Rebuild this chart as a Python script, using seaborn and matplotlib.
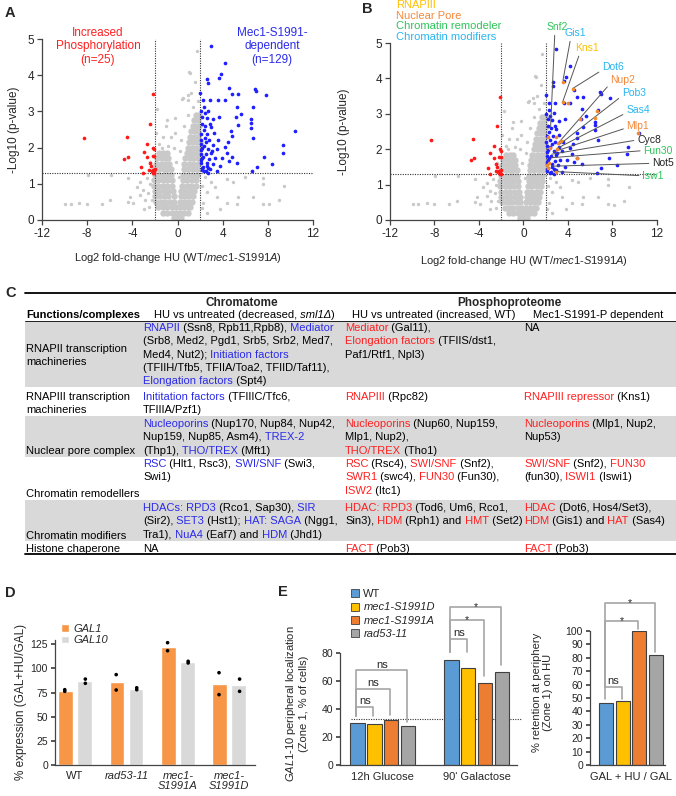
import matplotlib
matplotlib.use('Agg')
import matplotlib.pyplot as plt
from matplotlib.patches import Patch, Rectangle
import numpy as np
import pandas as pd
import seaborn as sns

# ---------------- data ----------------
# volcano (A, B): dense grey cloud, one list of log2FC per -log10 p row
grey_core_rows = {
    0.05: [-0.35, 0.0, 0.35],
    0.20: [-1.3, -0.9, -0.5, -0.15, 0.2, 0.55, 0.9],
    0.35: [-1.7, -1.3, -0.9, -0.5, -0.15, 0.2, 0.55, 0.9, 1.15],
    0.50: [-1.9, -1.5, -1.1, -0.7, -0.3, 0.25, 0.6, 0.95, 1.3],
    0.65: [-2.0, -1.6, -1.2, -0.8, -0.35, 0.3, 0.65, 1.0, 1.4],
    0.80: [-2.0, -1.6, -1.2, -0.8, -0.4, 0.35, 0.7, 1.1, 1.5],
    0.95: [-2.1, -1.7, -1.3, -0.9, -0.45, 0.4, 0.8, 1.2, 1.6],
    1.10: [-2.1, -1.7, -1.3, -0.9, -0.5, 0.45, 0.85, 1.25, 1.65],
    1.25: [-2.0, -1.6, -1.2, -0.9, -0.55, 0.5, 0.9, 1.3, 1.7],
    1.40: [-2.0, -1.6, -1.2, -0.9, -0.6, 0.55, 0.95, 1.35, 1.75],
    1.55: [-1.9, -1.5, -1.1, -0.75, 0.6, 1.0, 1.4, 1.8],
    1.70: [-1.8, -1.4, -1.05, -0.8, 0.7, 1.1, 1.5, 1.85],
    1.85: [-1.6, -1.25, -0.95, 0.8, 1.2, 1.6, 1.9],
    2.00: [0.9, 1.3, 1.65, 1.95],
    2.15: [1.0, 1.35, 1.7, 1.95],
    2.30: [1.1, 1.45, 1.8],
    2.45: [1.2, 1.55, 1.85],
    2.60: [1.35, 1.65, 1.9],
    2.75: [1.5, 1.8],
    2.90: [1.65, 1.9],
}

grey_scatter = [
    (-9.96, 0.44), (-9.46, 0.44), (-8.70, 0.48), (-8.04, 0.44), (-6.71, 0.44),
    (-5.98, 0.55), (-4.36, 0.51), (-3.91, 0.46), (-4.20, 0.64), (-3.32, 0.69),
    (-3.03, 0.83), (-3.61, 0.92), (-7.95, 1.23), (-5.92, 1.23), (-4.36, 1.15),
    (-2.73, 1.15), (-2.43, 1.00), (-2.90, 0.55), (-2.60, 0.75), (-3.30, 1.05),
    (-2.50, 0.35), (-3.00, 0.30), (-2.30, 0.55), (-2.40, 1.60), (-1.79, 3.07),
    (-0.95, 2.76), (-1.00, 2.60), (-1.26, 2.30), (-0.22, 2.81), (-1.60, 2.10),
    (-0.60, 2.30), (-0.30, 2.00), (-1.90, 2.40), (-1.40, 2.00), (-0.80, 2.05),
    (9.45, 0.94), (9.00, 0.55), (8.12, 0.43), (7.60, 0.44), (7.60, 1.15),
    (7.60, 1.00), (4.34, 0.48), (5.29, 0.44), (3.46, 0.64), (2.57, 0.78),
    (3.31, 0.92), (2.93, 1.06), (4.34, 1.12), (4.93, 1.06), (5.37, 0.64),
    (6.70, 0.64), (2.28, 0.48), (2.13, 0.32), (2.40, 1.20), (2.20, 0.95),
    (3.80, 0.30), (6.00, 1.20), (2.60, 0.20),
    (1.69, 4.68), (1.04, 4.08), (1.11, 4.05), (1.55, 3.82), (0.46, 3.36),
    (0.96, 3.31), (1.40, 3.13), (1.70, 2.76), (0.42, 3.34), (0.89, 3.45),
    (0.27, 2.21), (0.60, 2.60), (0.90, 2.90), (1.20, 3.50), (1.80, 3.30),
    (0.20, 1.90), (-0.10, 1.60), (0.10, 1.20), (-0.20, 2.40),
]

red_points = [
    (-8.28, 2.26), (-4.50, 2.30), (-4.74, 1.69), (-4.41, 1.75), (-2.14, 3.48),
    (-2.40, 2.65), (-2.67, 2.09), (-2.14, 2.00), (-2.05, 1.95), (-2.97, 1.88),
    (-2.67, 1.75), (-2.20, 1.77), (-2.05, 1.77), (-2.43, 1.57), (-3.23, 1.46),
    (-2.50, 1.38), (-3.03, 1.31), (-2.35, 1.50), (-2.20, 1.38), (-2.20, 1.33),
    (-2.10, 1.34), (-2.05, 1.31), (-2.15, 1.30), (-2.25, 1.36), (-2.02, 1.40),
]

blue_points = [
    (2.93, 4.82), (4.20, 4.35), (3.84, 4.03), (3.66, 3.93), (2.63, 3.89),
    (2.66, 3.78), (4.52, 3.66), (4.84, 3.47), (5.32, 3.47), (6.85, 3.61),
    (6.94, 3.57), (7.82, 3.45), (2.01, 3.52), (2.25, 3.31), (2.87, 3.31),
    (3.60, 3.31), (4.22, 3.31), (5.29, 3.13), (6.70, 3.11), (2.31, 3.11),
    (2.72, 3.02), (3.69, 2.85), (2.57, 2.82), (3.16, 2.80), (5.58, 2.93),
    (5.14, 2.85), (6.47, 2.78), (5.34, 2.62), (6.47, 2.67), (6.47, 2.54),
    (2.16, 2.65), (2.45, 2.60), (2.87, 2.65), (2.96, 2.58), (10.42, 2.46),
    (4.78, 2.46), (2.31, 2.50), (2.07, 2.38), (2.63, 2.38), (3.22, 2.39),
    (4.81, 2.32), (6.70, 2.27), (3.55, 2.21), (2.40, 2.27), (2.81, 2.21),
    (4.49, 2.16), (2.10, 2.09), (2.37, 2.05), (3.16, 2.07), (4.17, 2.03),
    (9.36, 2.07), (9.30, 1.86), (2.07, 1.93), (2.72, 1.95), (3.46, 1.95),
    (2.07, 1.82), (2.48, 1.82), (2.96, 1.84), (4.34, 1.86), (4.81, 1.75),
    (7.68, 1.75), (2.16, 1.70), (2.81, 1.68), (3.31, 1.70), (3.90, 1.70),
    (4.58, 1.63), (5.26, 1.58), (2.07, 1.57), (2.57, 1.57), (3.10, 1.54),
    (8.38, 1.54), (2.22, 1.47), (2.72, 1.43), (3.75, 1.49), (7.00, 1.47),
    (3.46, 1.35), (6.61, 1.34), (2.48, 1.36), (2.13, 1.38), (2.34, 1.34),
    (2.05, 2.20), (2.20, 1.98), (2.55, 2.15), (2.10, 1.65), (2.30, 1.75),
    (2.60, 1.50), (2.90, 1.40), (3.05, 1.90), (2.20, 2.85), (2.05, 3.00),
    (2.40, 2.95), (2.15, 1.45), (2.70, 1.30),
]

# chromatin-related hits highlighted in B
orange_points = [
    (3.52, 3.89), (4.45, 3.70), (3.52, 3.32), (4.03, 3.30), (5.08, 2.85),
    (6.58, 3.08), (6.43, 2.87), (10.32, 2.47), (3.34, 2.23), (2.92, 2.34),
    (3.13, 2.17), (3.04, 2.00), (4.78, 1.76), (2.08, 1.55), (2.32, 1.60),
    (2.92, 1.35), (2.23, 1.48), (2.38, 2.02), (2.23, 2.35),
]

b_labels = ['Snf2', 'Gis1', 'Kns1', 'Dot6', 'Nup2', 'Pob3', 'Sas4', 'Mlp1',
            'Cyc8', 'Fun30', 'Not5', 'Isw1']
b_label_fc = [2.44, 3.55, 3.50, 4.45, 3.20, 3.30, 3.00, 2.75, 2.55, 2.50, 2.60, 2.75]
b_label_p = [2.64, 3.95, 3.32, 3.72, 2.20, 2.15, 2.02, 1.93, 1.86, 1.76, 1.52, 1.37]
b_label_kind = ['remodeler', 'modifier', 'rnap3', 'modifier', 'pore', 'modifier',
                'modifier', 'pore', 'other', 'remodeler', 'other', 'remodeler']

# D: % expression, two replicates each
d_strains = ['WT', 'rad53-11', 'mec1-S1991A', 'mec1-S1991D']
d_tick_labels = ['WT', 'rad53-11', 'mec1-\nS1991A', 'mec1-\nS1991D']
gal1_reps = [[76.3, 78.0], [93.6, 77.7], [126.7, 118.4], [95.6, 72.9]]
gal10_reps = [[89.0, 84.6], [78.0, 80.0], [105.7, 107.4], [89.0, 76.3]]

# E
e_strains = ['WT', 'mec1-S1991D', 'mec1-S1991A', 'rad53-11']
e_conditions = ['12h Glucose', "90' Galactose"]
periph_glucose = [30.3, 29.1, 32.5, 27.9]
periph_galactose = [74.7, 69.3, 58.7, 66.6]
retention_hu = [46.4, 47.6, 100.0, 81.9]
# (strain index vs WT, bracket height, WT leg end, other leg end, label)
glucose_sig = [(1, 41.3, 35.0, 35.0, 'ns'), (2, 54.2, 35.0, 35.8, 'ns'), (3, 67.6, 35.0, 30.5, 'ns')]
galactose_sig = [(1, 90.0, 81.0, 81.0, 'ns'), (2, 103.4, 81.0, 63.3, '*'), (3, 112.7, 81.0, 71.6, '*')]
retention_sig = [(1, 58.3, 49.6, 49.6, 'ns'), (2, 107.4, 58.3, 101.7, '*'), (3, 120.8, 58.3, 84.4, '*')]

# C: table text; parts are (text, kind) with k=black, b=blue, r=red, i=italic
table_rows = [
    (True, ['RNAPII transcription', 'machineries'],
     [[('RNAPII', 'b'), (' (Ssn8, Rpb11,Rpb8),', 'k'), (' Mediator', 'b')],
      [('(Srb8, Med2, Pgd1, Srb5, Srb2, Med7,', 'k')],
      [('Med4, Nut2);', 'k'), (' Initiation factors', 'b')],
      [('(TFIIH/Tfb5, TFIIA/Toa2, TFIID/Taf11),', 'k')],
      [('Elongation factors', 'b'), (' (Spt4)', 'k')]],
     [[('Mediator', 'r'), (' (Gal11),', 'k')],
      [('Elongation factors', 'r'), (' (TFIIS/dst1,', 'k')],
      [('Paf1/Rtf1, Npl3)', 'k')]],
     [[('NA', 'k')]]),
    (False, ['RNAPIII transcription', 'machineries'],
     [[('Inititation factors', 'b'), (' (TFIIIC/Tfc6,', 'k')],
      [('TFIIIA/Pzf1)', 'k')]],
     [[('RNAPIII', 'r'), (' (Rpc82)', 'k')]],
     [[('RNAPIII repressor', 'r'), (' (Kns1)', 'k')]]),
    (True, ['Nuclear pore complex'],
     [[('Nucleoporins', 'b'), (' (Nup170, Nup84, Nup42,', 'k')],
      [('Nup159, Nup85, Asm4),', 'k'), (' TREX-2', 'b')],
      [('(Thp1),', 'k'), (' THO/TREX', 'b'), (' (Mft1)', 'k')]],
     [[('Nucleoporins', 'r'), (' (Nup60, Nup159,', 'k')],
      [('Mlp1, Nup2),', 'k')],
      [('THO/TREX', 'r'), (' (Tho1)', 'k')]],
     [[('Nucleoporins', 'r'), (' (Mlp1, Nup2,', 'k')],
      [('Nup53)', 'k')]]),
    (False, ['Chromatin remodellers'],
     [[('RSC', 'b'), (' (Hlt1, Rsc3),', 'k'), (' SWI/SNF', 'b'), (' (Swi3,', 'k')],
      [('Swi1)', 'k')]],
     [[('RSC', 'r'), (' (Rsc4),', 'k'), (' SWI/SNF', 'r'), (' (Snf2),', 'k')],
      [('SWR1', 'r'), (' (swc4),', 'k'), (' FUN30', 'r'), (' (Fun30),', 'k')],
      [('ISW2', 'r'), (' (Itc1)', 'k')]],
     [[('SWI/SNF', 'r'), (' (Snf2),', 'k'), (' FUN30', 'r')],
      [('(fun30),', 'k'), (' ISWI1', 'r'), (' (Iswi1)', 'k')]]),
    (True, ['Chromatin modifiers'],
     [[('HDACs: RPD3', 'b'), (' (Rco1, Sap30),', 'k'), (' SIR', 'b')],
      [('(Sir2),', 'k'), (' SET3', 'b'), (' (Hst1);', 'k'), (' HAT: SAGA', 'b'), (' (Ngg1,', 'k')],
      [('Tra1),', 'k'), (' NuA4', 'b'), (' (Eaf7) and', 'k'), (' HDM', 'b'), (' (Jhd1)', 'k')]],
     [[('HDAC: RPD3', 'r'), (' (Tod6, Um6, Rco1,', 'k')],
      [('Sin3),', 'k'), (' HDM', 'r'), (' (Rph1) and', 'k'), (' HMT', 'r'), (' (Set2)', 'k')]],
     [[('HDAC', 'r'), (' (Dot6, Hos4/Set3),', 'k')],
      [('HDM', 'r'), (' (Gis1) and', 'k'), (' HAT', 'r'), (' (Sas4)', 'k')]]),
    (False, ['Histone chaperone'],
     [[('NA', 'k')]],
     [[('FACT', 'r'), (' (Pob3)', 'k')]],
     [[('FACT', 'r'), (' (Pob3)', 'k')]]),
]

# ---------------- style ----------------
sns.set_theme(style='ticks')
plt.rcParams['font.family'] = ['Liberation Sans', 'DejaVu Sans']
plt.rcParams['mathtext.fontset'] = 'custom'
plt.rcParams['mathtext.rm'] = 'Liberation Sans'
plt.rcParams['mathtext.it'] = 'Liberation Sans:italic'
plt.rcParams['axes.unicode_minus'] = False

GREY = '#c9c9c9'
RED = '#ff1a1a'
BLUE = '#1f1fff'
ORANGE_PT = '#f08a30'
BLUE_T = '#2b2bea'
RED_T = '#ff2020'
kind_colors = {'rnap3': '#ffc000', 'pore': '#f5883a', 'remodeler': '#2fc45a',
               'modifier': '#29b6f0', 'other': '#222222'}
AX_C = '#444444'

W, H = 676, 796
fig = plt.figure(figsize=(W / 100, H / 100), dpi=100)


def px_axes(x0, y0, x1, y1):
    return fig.add_axes([x0 / W, 1 - y1 / H, (x1 - x0) / W, (y1 - y0) / H])


# overlay in pixel coordinates for the table and panel letters
ax_t = fig.add_axes([0, 0, 1, 1])
ax_t.set_xlim(0, W)
ax_t.set_ylim(H, 0)
ax_t.axis('off')

core_df = pd.DataFrame([(x, y) for y, xs in grey_core_rows.items() for x in xs], columns=['fc', 'p'])
scat_df = pd.DataFrame(grey_scatter, columns=['fc', 'p'])
red_df = pd.DataFrame(red_points, columns=['fc', 'p'])
blue_df = pd.DataFrame(blue_points, columns=['fc', 'p'])
orange_df = pd.DataFrame(orange_points, columns=['fc', 'p'])


def volcano(ax, highlight):
    sns.scatterplot(data=core_df, x='fc', y='p', s=21, color=GREY, linewidth=0, ax=ax, zorder=1)
    sns.scatterplot(data=scat_df, x='fc', y='p', s=6, color=GREY, linewidth=0, ax=ax, zorder=1)
    sns.scatterplot(data=red_df, x='fc', y='p', s=7, color=RED, linewidth=0, ax=ax, zorder=3)
    sns.scatterplot(data=blue_df, x='fc', y='p', s=7, color=BLUE, linewidth=0, ax=ax, zorder=3)
    if highlight:
        sns.scatterplot(data=orange_df, x='fc', y='p', s=7, color=ORANGE_PT, linewidth=0, ax=ax, zorder=4)
    for xv in (-2, 2):
        ax.axvline(xv, ls=(0, (1, 1.2)), color='#333333', lw=0.8, zorder=2)
    ax.axhline(1.3, ls=(0, (1, 1.2)), color='#333333', lw=0.8, zorder=2)
    ax.set_xlim(-12, 12)
    ax.set_ylim(0, 5)
    ax.set_xticks(range(-12, 13, 4))
    ax.set_yticks(range(6))
    sns.despine(ax=ax)
    for sp in ('left', 'bottom'):
        ax.spines[sp].set_color(AX_C)
        ax.spines[sp].set_linewidth(0.9)
    ax.tick_params(labelsize=8.5, length=3.5, width=0.9, color=AX_C, pad=2)
    ax.set_xlabel('Log2 fold-change HU (WT/$\\it{mec1}$-$\\it{S1991A}$)', fontsize=8)
    ax.set_ylabel('-Log10 (p-value)', fontsize=8.5)


# ---------------- A ----------------
ax_a = px_axes(42, 39, 313, 220)
volcano(ax_a, False)
ax_a.xaxis.set_label_coords(0.5, -0.17)
ax_a.yaxis.set_label_coords(-0.08, 0.5)
ax_a.text(-7.04, 4.8, 'Increased\nPhosphorylation\n(n=25)', color=RED_T, fontsize=8.5,
          ha='center', va='center', linespacing=1.15)
ax_a.text(8.37, 4.8, 'Mec1-S1991-\ndependent\n(n=129)', color=BLUE_T, fontsize=8.5,
          ha='center', va='center', linespacing=1.15)

# ---------------- B ----------------
ax_b = px_axes(390, 43, 657, 220)
volcano(ax_b, True)
ax_b.xaxis.set_label_coords(0.5, -0.19)
ax_b.yaxis.set_label_coords(-0.148, 0.5)
for i, (name, kind) in enumerate([('RNAPIII', 'rnap3'), ('Nuclear Pore', 'pore'),
                                  ('Chromatin remodeler', 'remodeler'),
                                  ('Chromatin modifiers', 'modifier')]):
    ax_b.text(-11.46, 6.07 - i * 0.3, name, color=kind_colors[kind], fontsize=8,
              ha='left', va='center', clip_on=False)

label_pos = [(3.01, 5.45), (4.63, 5.28), (5.71, 4.86), (8.04, 4.32), (8.94, 3.95),
             (9.93, 3.59), (10.29, 3.11), (10.29, 2.66), (11.28, 2.26), (12.09, 1.96),
             (12.54, 1.60), (11.64, 1.25)]
label_rel = [(0.4, 0), (0.3, 0), (0.2, 0), (0, 0.2), (0, 0.2), (0, 0.2), (0, 0.2),
             (0, 0.3), (0, 0.5), (0, 0.5), (0, 0.5), (0, 0.5)]
for name, fx, fy, kind, pos, rel in zip(b_labels, b_label_fc, b_label_p, b_label_kind,
                                        label_pos, label_rel):
    ax_b.annotate(name, xy=(fx, fy), xytext=pos, color=kind_colors[kind], fontsize=7.5,
                  ha='center', va='center', annotation_clip=False,
                  arrowprops=dict(arrowstyle='-', color='#555555', lw=0.7,
                                  shrinkA=0, shrinkB=0, relpos=rel))

# ---------------- C (table) ----------------
row_tops = [321, 387, 416, 457, 500, 541]
row_bottoms = [387, 416, 457, 500, 541, 554]
row_first = [327, 396, 423, 463, 507, 548]
col1_first = [348, 396, 450, 493, 535, 548]
col_x = [26, 143, 345, 524]
LINE = 13.3
TFS = 8
kind_style = {'k': ('black', 'normal'), 'b': (BLUE_T, 'normal'),
              'r': (RED_T, 'normal'), 'i': ('black', 'italic')}


def rich_line(x, y, parts, weight='normal'):
    t = None
    for s, kind in parts:
        c, st = kind_style[kind]
        if t is None:
            t = ax_t.text(x, y + 4, s, color=c, fontstyle=st, fontweight=weight,
                          fontsize=TFS, ha='left', va='baseline')
        else:
            t = ax_t.annotate(s, xy=(1, 0), xycoords=t, color=c, fontstyle=st,
                              fontweight=weight, fontsize=TFS, ha='left', va='bottom')


for i, (shade, col1, col2, col3, col4) in enumerate(table_rows):
    if shade:
        ax_t.add_patch(Rectangle((25, row_tops[i]), W - 25, row_bottoms[i] - row_tops[i],
                                 facecolor='#d9d9d9', edgecolor='none', zorder=0))
    for j, line in enumerate(col1):
        rich_line(col_x[0], col1_first[i] + j * LINE, [(line, 'k')])
    for cx, lines in zip(col_x[1:], (col2, col3, col4)):
        for j, parts in enumerate(lines):
            rich_line(cx, row_first[i] + j * LINE, parts)

ax_t.plot([25, W], [293, 293], color='black', lw=1.3)
ax_t.plot([25, W], [321, 321], color='black', lw=0.6)
ax_t.plot([25, W], [554, 554], color='black', lw=1.3)
ax_t.text(242, 303, 'Chromatome', fontsize=8.5, fontweight='bold', ha='center', va='center')
ax_t.text(509, 303, 'Phosphoproteome', fontsize=8.5, fontweight='bold', ha='center', va='center')
rich_line(26, 314, [('Functions/complexes', 'k')], weight='bold')
rich_line(154, 314, [('HU vs untreated (decreased,', 'k'), (' sml1\u0394', 'i'), (')', 'k')])
rich_line(352, 314, [('HU vs untreated (increased, WT)', 'k')])
rich_line(533, 314, [('Mec1-S1991-P dependent', 'k')])

# ---------------- D ----------------
ax_d = px_axes(55, 639.5, 255, 765)
d_df = pd.DataFrame(
    [(s, 'GAL1', v) for s, reps in zip(d_strains, gal1_reps) for v in reps]
    + [(s, 'GAL10', v) for s, reps in zip(d_strains, gal10_reps) for v in reps],
    columns=['strain', 'gene', 'expr'])
sns.barplot(data=d_df, x='strain', y='expr', hue='gene', order=d_strains,
            hue_order=['GAL1', 'GAL10'], palette=['#f79646', '#d9d9d9'], errorbar=None,
            width=0.74, gap=0.22, saturation=1, legend=False, ax=ax_d)
sns.stripplot(data=d_df, x='strain', y='expr', hue='gene', order=d_strains,
              hue_order=['GAL1', 'GAL10'], palette=['black', 'black'], dodge=True,
              jitter=False, size=2.6, legend=False, ax=ax_d, zorder=3)
ax_d.set_xlim(-0.39, 3.5)
ax_d.set_ylim(0, 130)
ax_d.set_yticks(range(0, 126, 25))
ax_d.set_xticks(range(4))
ax_d.set_xticklabels(d_tick_labels, fontsize=8, linespacing=1.0)
for lbl in ax_d.get_xticklabels()[1:]:
    lbl.set_fontstyle('italic')
sns.despine(ax=ax_d)
for sp in ('left', 'bottom'):
    ax_d.spines[sp].set_color(AX_C)
    ax_d.spines[sp].set_linewidth(0.9)
ax_d.tick_params(axis='y', labelsize=7.5, length=3, color=AX_C, pad=2)
ax_d.tick_params(axis='x', length=0, pad=4)
ax_d.set_xlabel('')
ax_d.set_ylabel('% expression (GAL+HU/GAL)', fontsize=8.5)
ax_d.yaxis.set_label_coords(-0.1375, 0.5)
ax_d.legend(handles=[Patch(facecolor='#f79646', label='GAL1'),
                     Patch(facecolor='#d9d9d9', label='GAL10')],
            loc='upper left', bbox_to_anchor=(0.03, 1.125), frameon=False,
            prop={'style': 'italic', 'size': 8}, handlelength=0.7, handleheight=0.7,
            handletextpad=0.4, labelspacing=0.15, borderaxespad=0, borderpad=0)

# ---------------- E ----------------
e_colors = ['#5b9bd5', '#ffc000', '#ed7d31', '#a5a5a5']
offsets = [-0.27, -0.09, 0.09, 0.27]
BR_C = '#a6a6a6'


def style_e(ax):
    sns.despine(ax=ax)
    for sp in ('left', 'bottom'):
        ax.spines[sp].set_color(AX_C)
        ax.spines[sp].set_linewidth(0.9)
    ax.tick_params(axis='y', labelsize=7.5, length=3, color=AX_C, pad=2)
    ax.tick_params(axis='x', labelsize=8, length=0, pad=5)
    ax.set_xlabel('')


def brackets(ax, group, sig):
    for idx, yb, y0, y1, lab in sig:
        x0 = group + offsets[0] - 0.012
        x1 = group + offsets[idx] - 0.012
        ax.plot([x0, x0, x1, x1], [y0, yb, yb, y1], color=BR_C, lw=1.2, clip_on=False)
        if lab == 'ns':
            ax.annotate(lab, xy=((x0 + x1) / 2, yb), xytext=(0, 2), textcoords='offset points',
                        ha='center', va='baseline', fontsize=8, annotation_clip=False)
        else:
            ax.annotate(lab, xy=((x0 + x1) / 2, yb), xytext=(0, -2), textcoords='offset points',
                        ha='center', va='baseline', fontsize=7.5, annotation_clip=False)


ax_e1 = px_axes(340, 653, 517, 765)
e1_df = pd.DataFrame([(c, s, v) for c, vals in zip(e_conditions, (periph_glucose, periph_galactose))
                      for s, v in zip(e_strains, vals)], columns=['cond', 'strain', 'pct'])
sns.barplot(data=e1_df, x='cond', y='pct', hue='strain', order=e_conditions, hue_order=e_strains,
            palette=e_colors, errorbar=None, width=0.72, gap=0.15, saturation=1,
            edgecolor='#404040', linewidth=0.8, legend=False, ax=ax_e1)
ax_e1.set_xlim(-0.457, 1.43)
ax_e1.set_ylim(0, 80)
ax_e1.set_yticks(range(0, 81, 20))
style_e(ax_e1)
ax_e1.axhline(33, xmin=0.06, xmax=1.03, ls=(0, (1, 1.2)), color='#333333', lw=0.8,
              clip_on=False, zorder=0.5)
ax_e1.set_ylabel('$\\it{GAL1}$-$\\it{10}$ peripheral localization\n(Zone 1, % of cells)',
                 fontsize=8, linespacing=1.1)
ax_e1.yaxis.set_label_coords(-0.175, 0.55)
brackets(ax_e1, 0, glucose_sig)
brackets(ax_e1, 1, galactose_sig)
leg = ax_e1.legend(handles=[Patch(facecolor=c, edgecolor='#404040', linewidth=0.6, label=s)
                            for c, s in zip(e_colors, e_strains)],
                   loc='upper left', bbox_to_anchor=(0.06, 1.57), frameon=False, fontsize=8,
                   handlelength=0.75, handleheight=0.75, handletextpad=0.4,
                   labelspacing=0.3, borderaxespad=0, borderpad=0)
for t in leg.get_texts()[1:]:
    t.set_fontstyle('italic')

ax_e2 = px_axes(590, 631, 665, 765)
e2_df = pd.DataFrame({'cond': ['GAL + HU / GAL'] * 4, 'strain': e_strains, 'pct': retention_hu})
sns.barplot(data=e2_df, x='cond', y='pct', hue='strain', hue_order=e_strains,
            palette=e_colors, errorbar=None, width=0.72, gap=0.15, saturation=1,
            edgecolor='#404040', linewidth=0.8, legend=False, ax=ax_e2)
ax_e2.set_xlim(-0.446, 0.37)
ax_e2.set_ylim(0, 100)
ax_e2.set_yticks(range(0, 101, 10))
style_e(ax_e2)
ax_e2.set_ylabel('% retention at periphery\n(Zone 1) on HU', fontsize=8, linespacing=1.1)
ax_e2.yaxis.set_label_coords(-0.49, 0.54)
brackets(ax_e2, 0, retention_sig)

# panel letters
for letter, x, y in [('A', 5, 13), ('B', 362, 9), ('C', 5, 293), ('D', 5, 593), ('E', 278, 592)]:
    ax_t.text(x, y, letter, fontsize=10.5, fontweight='bold', ha='left', va='center')

fig.savefig('out.png', dpi=100)
